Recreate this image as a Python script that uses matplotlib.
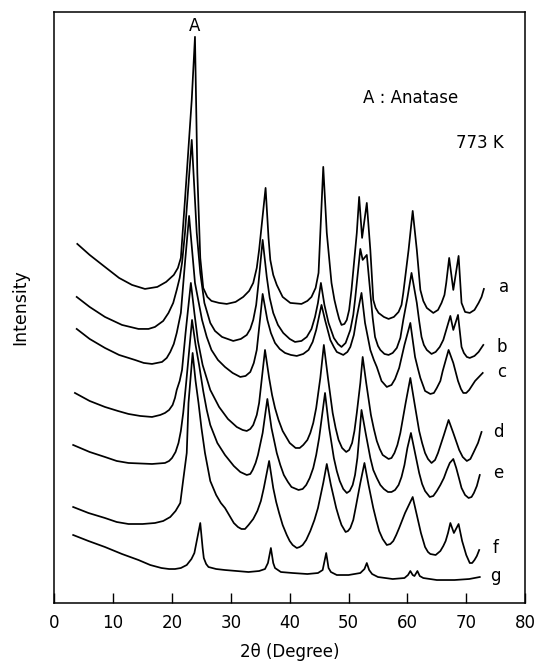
import matplotlib
matplotlib.use("Agg")
import matplotlib.pyplot as plt

# ---- data (2theta in degrees, intensity in arbitrary stacked units) ----
a_deg = [3.9, 6.0, 8.6, 11.0, 13.2, 15.4, 17.5, 19.0, 20.3, 21.0, 21.5, 22.2, 23.35, 23.9, 24.3, 24.8, 25.3, 26.0,
         26.7, 28.0, 29.3, 30.8, 32.1, 33.1, 33.8, 34.4, 34.8, 35.9, 36.4, 36.7, 37.2, 37.8, 38.8, 40.1, 42.0,
         43.0, 43.7, 44.4, 44.9, 45.7, 46.3, 47.1, 47.6, 48.0, 48.4, 48.8, 49.3, 49.7, 50.1, 50.5, 51.4, 51.8,
         52.3, 53.1, 53.7, 54.2, 54.6, 55.1, 56.0, 56.8, 57.7, 58.5, 59.0, 59.3, 60.2, 60.9, 61.6, 62.2, 62.7,
         63.3, 64.4, 65.2, 65.8, 66.3, 66.6, 67.1, 67.8, 68.7, 69.2, 69.8, 70.6, 71.4, 72.1, 72.6, 73.0]
a_int = [359, 348, 336, 325, 318, 314, 316, 321, 328, 335, 345, 403, 503, 566, 430, 345, 315, 306,
         302, 300, 299, 301, 306, 312, 320, 335, 353, 415, 365, 343, 328, 318, 306, 300, 299,
         302, 306, 315, 330, 436, 370, 320, 303, 293, 284, 278, 279, 283, 293, 313, 370, 406,
         365, 400, 353, 303, 295, 290, 286, 284, 286, 291, 298, 310, 353, 392, 353, 313, 302,
         295, 290, 293, 300, 308, 320, 345, 313, 347, 300, 291, 290, 293, 300, 306, 314]

b_deg = [3.8, 6.0, 8.6, 11.5, 14.3, 16.0, 17.1, 18.5, 19.4, 20.2, 20.8, 21.3, 21.7, 22.2, 23.35, 24.2, 24.8, 25.5,
         26.5, 27.3, 28.5, 30.4, 31.7, 32.7, 33.3, 33.8, 34.3, 34.7, 35.4, 36.1, 36.6, 37.2, 38.0, 38.9, 40.0,
         40.9, 42.0, 42.9, 43.7, 44.3, 44.8, 45.3, 45.9, 46.6, 47.5, 48.2, 48.8, 49.5, 50.3, 50.8, 51.1, 52.0,
         52.4, 53.1, 53.7, 54.1, 54.5, 55.0, 55.4, 56.1, 56.8, 57.5, 58.2, 58.8, 59.3, 60.0, 60.7, 61.6, 62.0,
         62.4, 62.8, 63.3, 64.1, 64.8, 65.5, 66.1, 66.6, 67.3, 67.8, 68.6, 69.2, 69.6, 70.1, 70.6, 71.4, 72.1,
         72.9]
b_int = [306, 296, 286, 278, 274, 274, 276, 282, 290, 300, 313, 325, 340, 370, 463, 370, 330, 300,
         280, 272, 266, 262, 264, 268, 274, 283, 298, 320, 363, 326, 305, 290, 278, 270, 264,
         261, 262, 266, 274, 286, 300, 320, 298, 280, 265, 259, 256, 260, 273, 288, 303, 354,
         343, 348, 310, 285, 266, 257, 253, 249, 248, 250, 255, 265, 283, 305, 330, 300, 282,
         266, 258, 253, 249, 251, 256, 263, 273, 287, 273, 288, 256, 250, 246, 245, 247, 251,
         258]

c_deg = [3.8, 6.0, 8.6, 11.0, 13.7, 15.2, 16.6, 18.3, 19.1, 19.7, 20.3, 20.8, 21.5, 22.2, 22.9, 23.9, 25.1, 25.9,
         26.7, 27.8, 29.0, 30.3, 31.6, 32.5, 33.3, 33.9, 34.4, 35.0, 35.4, 36.2, 36.8, 37.5, 38.3, 39.2, 40.2,
         41.2, 42.3, 43.2, 43.9, 44.5, 45.4, 46.0, 46.9, 47.5, 48.0, 49.1, 49.8, 50.3, 50.9, 51.4, 52.2, 52.8,
         53.7, 54.3, 54.8, 55.6, 56.5, 57.3, 57.9, 58.6, 59.5, 60.5, 61.3, 61.8, 62.2, 63.0, 63.9, 64.5, 65.0,
         65.6, 66.0, 67.0, 67.8, 68.6, 69.1, 69.5, 70.0, 70.5, 71.5, 72.8]
c_int = [274, 264, 255, 248, 243, 240, 239, 241, 245, 251, 259, 270, 290, 340, 387, 320, 283, 266,
         253, 243, 236, 230, 226, 227, 231, 240, 253, 286, 309, 283, 270, 260, 254, 250, 248,
         247, 249, 253, 261, 273, 298, 283, 263, 256, 251, 248, 251, 256, 268, 286, 310, 280,
         253, 243, 236, 222, 216, 218, 224, 235, 258, 280, 246, 234, 225, 212, 209, 210, 215,
         222, 232, 253, 240, 222, 214, 210, 210, 213, 222, 230]

d_deg = [3.5, 6.0, 8.6, 10.8, 12.6, 14.6, 16.6, 18.0, 18.8, 19.5, 20.1, 20.5, 20.8, 21.3, 21.7, 22.3, 23.2, 23.8,
         24.4, 25.2, 26.5, 28.0, 29.5, 31.0, 32.0, 32.7, 33.3, 33.8, 34.4, 34.8, 35.8, 36.5, 37.0, 37.5, 38.1,
         38.8, 40.0, 41.0, 41.7, 42.3, 43.0, 43.5, 44.0, 44.5, 45.2, 45.8, 46.5, 47.3, 47.8, 48.3, 48.9, 49.6,
         50.1, 50.6, 51.0, 51.4, 52.0, 52.4, 53.0, 53.8, 54.3, 54.8, 55.3, 55.8, 56.8, 57.3, 57.8, 58.3, 58.8,
         59.7, 60.5, 61.2, 62.0, 62.5, 63.0, 63.5, 64.1, 64.7, 65.2, 66.2, 67.0, 67.8, 68.8, 69.4, 70.1, 70.7,
         71.2, 72.0, 72.6]
d_int = [210, 202, 196, 192, 189, 187, 186, 188, 190, 193, 198, 205, 213, 222, 233, 270, 320, 290,
         262, 238, 213, 196, 184, 176, 173, 172, 174, 178, 188, 200, 253, 225, 208, 195, 183,
         172, 160, 155, 155, 158, 163, 170, 180, 195, 225, 258, 225, 190, 175, 163, 155, 151,
         153, 160, 172, 190, 220, 246, 220, 188, 174, 162, 154, 148, 144, 145, 150, 158, 170,
         200, 225, 200, 172, 160, 150, 144, 140, 143, 150, 168, 183, 170, 153, 146, 142, 144,
         150, 160, 171]

e_deg = [3.2, 6.0, 8.6, 10.6, 12.6, 16.6, 18.8, 19.5, 20.0, 20.6, 21.1, 21.5, 21.9, 22.4, 23.4, 24.0, 24.6, 25.3,
         25.9, 26.5, 27.7, 29.0, 30.5, 31.6, 32.7, 33.3, 33.7, 34.2, 34.6, 35.4, 36.2, 36.9, 37.8, 38.4, 39.0,
         39.7, 40.3, 41.5, 42.2, 42.8, 43.4, 44.0, 44.5, 45.0, 46.0, 46.7, 47.5, 48.0, 48.5, 49.1, 49.7, 50.2,
         50.7, 51.1, 51.5, 52.2, 52.9, 53.7, 54.2, 54.8, 55.4, 56.0, 56.7, 57.3, 57.9, 58.5, 59.0, 59.5, 60.0,
         60.6, 61.3, 62.0, 62.5, 63.0, 63.8, 64.4, 65.0, 65.6, 66.2, 66.7, 67.2, 67.8, 68.3, 68.8, 69.2, 69.8,
         70.4, 70.9, 71.3, 71.8, 72.3]
e_int = [158, 151, 146, 142, 140, 139, 140, 142, 145, 151, 160, 172, 190, 220, 283, 258, 238, 212,
         193, 178, 160, 148, 137, 131, 128, 129, 133, 140, 148, 170, 204, 175, 150, 138, 128,
         121, 116, 113, 114, 118, 125, 135, 148, 165, 210, 175, 145, 132, 122, 114, 110, 112,
         118, 128, 145, 193, 170, 145, 133, 125, 118, 114, 111, 111, 113, 118, 126, 138, 155,
         170, 150, 130, 119, 112, 106, 107, 112, 118, 125, 133, 140, 144, 135, 124, 115, 108,
         105, 106, 110, 117, 128]

f_deg = [3.2, 5.8, 8.6, 10.6, 12.6, 15.0, 17.1, 18.5, 19.7, 20.6, 21.4, 21.9, 22.5, 22.8, 23.5, 24.0, 24.5, 25.0,
         25.6, 26.5, 27.5, 28.3, 29.0, 29.8, 30.5, 31.2, 31.8, 32.4, 33.0, 33.8, 34.5, 35.1, 35.6, 36.5, 37.2,
         37.7, 38.2, 38.8, 39.5, 40.0, 40.5, 41.2, 41.7, 42.2, 42.8, 43.5, 44.2, 44.8, 45.7, 46.3, 47.0, 47.9,
         48.4, 48.8, 49.5, 49.9, 50.3, 50.8, 51.2, 52.0, 52.7, 53.4, 54.2, 54.7, 55.2, 55.8, 56.5, 57.1, 57.6,
         58.1, 58.6, 59.6, 60.9, 61.6, 62.3, 63.0, 63.5, 63.9, 64.8, 65.6, 66.1, 66.5, 66.9, 67.3, 67.9, 68.7,
         69.3, 70.0, 70.6, 71.0, 71.4, 71.8, 72.2]
f_int = [96, 90, 85, 81, 79, 79, 80, 82, 86, 92, 100, 123, 150, 200, 250, 222, 200, 175,
         150, 122, 108, 100, 95, 87, 80, 76, 74, 74, 78, 84, 92, 102, 115, 142, 115,
         101, 90, 78, 68, 62, 58, 55, 56, 58, 63, 72, 83, 95, 120, 139, 118, 95,
         85, 78, 71, 72, 75, 83, 95, 120, 140, 118, 95, 83, 72, 64, 58, 59, 62,
         68, 75, 90, 106, 88, 70, 56, 51, 49, 48, 52, 57, 62, 70, 80, 70, 79,
         62, 48, 40, 40, 43, 47, 53]

g_deg = [3.2, 5.8, 8.6, 11.5, 14.3, 16.3, 18.2, 19.5, 20.5, 21.5, 22.5, 23.3, 23.8, 24.3, 24.8, 25.2, 25.4, 25.8,
         26.2, 27.5, 29.0, 31.0, 33.0, 34.8, 35.8, 36.3, 36.8, 37.2, 37.5, 38.5, 40.5, 43.0, 44.8, 45.6, 46.2,
         46.6, 47.0, 48.0, 50.0, 52.0, 52.7, 53.1, 53.5, 54.0, 55.0, 57.5, 59.5, 60.1, 60.5, 60.9, 61.2, 61.7,
         62.1, 62.7, 65.0, 68.0, 70.5, 72.3]
g_int = [68, 62, 56, 49, 43, 38, 35, 34, 34, 35, 38, 44, 50, 65, 80, 55, 45, 39,
         36, 34, 33, 32, 31, 32, 34, 40, 55, 40, 35, 31, 30, 29, 30, 33, 50,
         35, 31, 28, 28, 30, 34, 40, 33, 29, 26, 24, 25, 28, 32, 28, 27, 32,
         27, 25, 23, 23, 24, 26]

curve_names = ["a", "b", "c", "d", "e", "f", "g"]
label_deg = [76.4, 76.1, 76.1, 75.5, 75.4, 74.9, 75.0]
label_int = [316, 256, 231, 171, 130, 55, 27]

x_ticks = [0, 10, 20, 30, 40, 50, 60, 70, 80]

# ---- figure ----
fig = plt.figure(figsize=(5.38, 6.65), dpi=100)
ax = fig.add_axes([0.101, 0.0932, 0.875, 0.889])

curves = [(a_deg, a_int), (b_deg, b_int), (c_deg, c_int), (d_deg, d_int),
          (e_deg, e_int), (f_deg, f_int), (g_deg, g_int)]
for (xs, ys) in curves:
    ax.plot(xs, ys, color="black", lw=1.25, solid_joinstyle="round")

for name, lx, ly in zip(curve_names, label_deg, label_int):
    ax.text(lx, ly, name, fontsize=12, ha="center", va="center", color="black")

ax.text(23.9, 577, "A", fontsize=12, ha="center", va="center")
ax.text(60.5, 505, "A : Anatase", fontsize=12, ha="center", va="center")
ax.text(72.4, 460, "773 K", fontsize=12, ha="center", va="center")

ax.set_xlim(0, 80)
ax.set_ylim(0, 591)
ax.set_xticks(x_ticks)
ax.set_xticklabels([str(t) for t in x_ticks], fontsize=12)
ax.set_yticks([])
ax.tick_params(axis="x", direction="in", length=7, width=1.0, pad=8)
for sp in ax.spines.values():
    sp.set_linewidth(1.1)
ax.set_xlabel("2θ (Degree)", fontsize=12, labelpad=8)
ax.set_ylabel("Intensity", fontsize=12.5, labelpad=18)

fig.savefig("out.png", dpi=100)
